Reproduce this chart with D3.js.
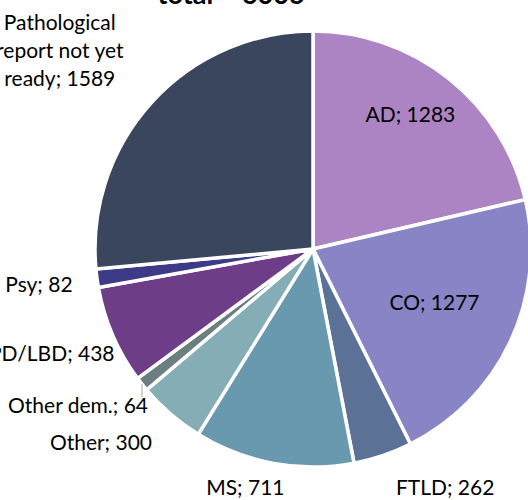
<!DOCTYPE html>
<meta charset="utf-8">
<style>
body { margin: 0; background: #fff; }
svg { display: block; }
.lbl { font-family: Lato, "Open Sans", sans-serif; font-size: 21px; fill: #000; }
.title { font-family: Lato, sans-serif; font-size: 27px; font-weight: 700; fill: #000; }
</style>
<body>
<script src="https://cdnjs.cloudflare.com/ajax/libs/d3/7.8.5/d3.min.js"></script>
<script>
var width = 528
var height = 500

var categories = ['AD', 'CO', 'FTLD', 'MS', 'Other', 'Other dem.', 'PD/LBD', 'Psy', 'Pathological report not yet ready']
var counts = [1283, 1277, 262, 711, 300, 64, 438, 82, 1589]
var colors = ['#ad84c3', '#8884c5', '#5c7196', '#6899ae', '#84adb6', '#6b7f80', '#6d3e87', '#3d3a88', '#3a465e']
var titleText = 'total = ' + d3.sum(counts)

// where Excel put each data label: angle (deg from 12 o'clock), radius factor, anchor
var labelPlace = {
    'AD': { a: 36, k: 0.76, anchor: 'middle' },
    'CO': { a: 114, k: 0.61, anchor: 'middle' },
    'FTLD': { a: 151, k: 1.25, anchor: 'middle' },
    'MS': { a: 195.8, k: 1.14, anchor: 'middle' },
    'Other': { a: 219.7, k: 1.156, anchor: 'end' },
    'Other dem.': { a: 226.4, k: 1.045, anchor: 'end', leader: true },
    'PD/LBD': { a: 242.1, k: 1.03, anchor: 'end' },
    'Psy': { a: 261.5, k: 1.115, anchor: 'end' },
    'Pathological report not yet ready': { a: 307.8, k: 1.47, anchor: 'middle', lines: ['Pathological', 'report not yet', 'ready; '] }
}

var cx = 313, cy = 249, radius = 218

var svg = d3.select('body').append('svg')
    .attr('width', width)
    .attr('height', height)

svg.append('text')
    .attr('class', 'title')
    .attr('x', 231)
    .attr('y', 4)
    .attr('text-anchor', 'middle')
    .text(titleText)

var data = categories.map(function (c, i) { return { name: c, value: counts[i], color: colors[i] } })

var pie = d3.pie()
    .sort(null)
    .value(function (d) { return d.value })

var arc = d3.arc()
    .innerRadius(0)
    .outerRadius(radius)

var g = svg.append('g')
    .attr('transform', 'translate(' + cx + ',' + cy + ')')

var arcs = pie(data)

g.selectAll('path.slice')
    .data(arcs)
    .enter().append('path')
    .attr('class', 'slice')
    .attr('d', arc)
    .attr('fill', function (d) { return d.data.color })
    .attr('stroke', '#fff')
    .attr('stroke-width', 3.5)
    .attr('stroke-linejoin', 'round')

function polar(deg, r) {
    var t = deg * Math.PI / 180
    return d3.arc().innerRadius(r).outerRadius(r).startAngle(t).endAngle(t).centroid()
}

arcs.forEach(function (d) {
    var p = labelPlace[d.data.name]
    var pos = polar(p.a, p.k * radius)
    if (p.leader) {
        var mid = (d.startAngle + d.endAngle) / 2 * 180 / Math.PI
        var e = polar(mid, radius)
        g.append('line')
            .attr('x1', e[0]).attr('y1', e[1])
            .attr('x2', e[0]).attr('y2', pos[1] - 9)
            .attr('stroke', '#a6a6a6')
            .attr('stroke-width', 1)
    }
    var t = g.append('text')
        .attr('class', 'lbl')
        .attr('text-anchor', p.anchor)
        .attr('x', pos[0])
        .attr('y', pos[1])
    if (p.lines) {
        p.lines.forEach(function (ln, i) {
            t.append('tspan')
                .attr('x', pos[0])
                .attr('dy', i === 0 ? '-1.1em' : '1.35em')
                .text(i === p.lines.length - 1 ? ln + d.data.value : ln)
        })
    } else {
        t.attr('dy', '0.35em').text(d.data.name + '; ' + d.data.value)
    }
})
</script>
</body>
